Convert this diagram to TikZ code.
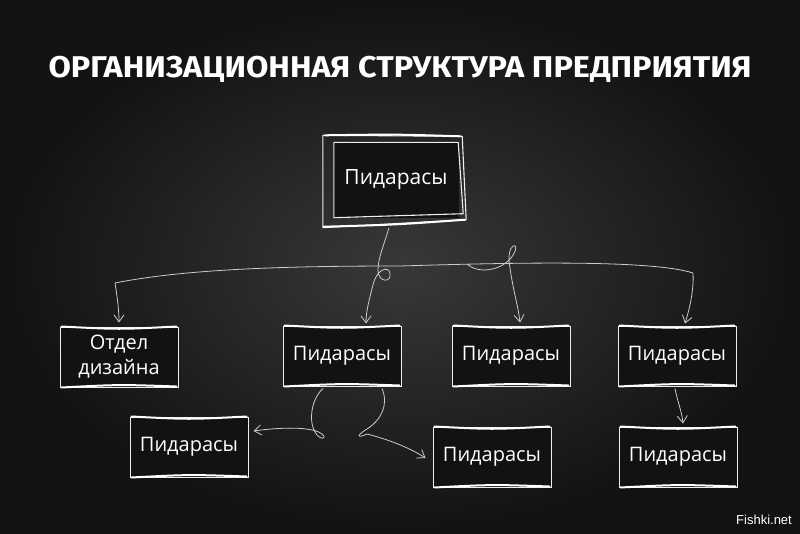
\documentclass[tikz,border=0pt]{standalone}
\usepackage{fontspec}
\setmainfont{Open Sans}
\newfontfamily\titlefont{Fira Sans}
\newfontfamily\markfont{Liberation Sans}
\usetikzlibrary{arrows.meta}
\definecolor{chalk}{gray}{0.93}
\definecolor{wirecol}{gray}{0.8}
\definecolor{boxfill}{gray}{0.07}
\definecolor{bgin}{gray}{0.22}
\definecolor{bgout}{gray}{0.07}

\tikzset{
    box/.style={draw=chalk, line width=1pt, fill=boxfill, text=white,
        minimum width=118pt, minimum height=60pt, inner sep=0pt, align=center,
        font=\fontsize{20}{25}\selectfont},
    boss/.style={fill=boxfill, text=white, minimum width=126pt, minimum height=75pt,
        inner sep=0pt, font=\fontsize{21}{25}\selectfont},
    chalkline/.style={draw=chalk, line width=1.1pt, line join=round},
    chalkstroke/.style={draw=white, line width=2pt, line cap=round},
    wire/.style={draw=wirecol, line width=0.8pt, -{Straight Barb[length=7pt, width=10pt]}},
    bus/.style={draw=wirecol, line width=0.8pt}
}

\begin{document}
\begin{tikzpicture}[x=1pt, y=-1pt]

    % background
    \shade[inner color=bgin, outer color=bgout] (0,0) rectangle (800,533);
    \useasboundingbox (0,0) rectangle (800,533);

    \node[font=\titlefont\bfseries\fontsize{30}{30}\selectfont, text=white, xscale=1.08] (title) at (400,69) {ОРГАНИЗАЦИОННАЯ СТРУКТУРА ПРЕДПРИЯТИЯ};

    % top box
    \node[boss] (top) at (396,180) {Пидарасы};
    \draw[chalkline] ([shift={(-10,-7)}]top.north west) -- ([shift={(3,-6)}]top.north east)
        -- ([shift={(7,2)}]top.south east) -- ([shift={(-10,10)}]top.south west) -- cycle;
    \draw[chalkline] ([shift={(1,0)}]top.north west) -- ([shift={(-1,0)}]top.north east)
        -- ([shift={(4,-4)}]top.south east) -- ([shift={(1,0)}]top.south west) -- cycle;
    \draw[chalkstroke] ([shift={(-8,-7)}]top.north west) .. controls ([shift={(0,-8)}]top.north) .. ([shift={(1,-6)}]top.north east);
    \draw[chalkstroke] ([shift={(-9,9)}]top.south west) .. controls ([shift={(0,7)}]top.south) .. ([shift={(6,2)}]top.south east);

    % second row
    \node[box] (design) at (119,357) {Отдел\\дизайна};
    \node[box] (midA) at (342,356) {Пидарасы};
    \node[box] (midB) at (511,356) {Пидарасы};
    \node[box] (midC) at (677,356) {Пидарасы};

    % third row
    \node[box] (lowA) at (189,447) {Пидарасы};
    \node[box] (lowB) at (492,457) {Пидарасы};
    \node[box] (lowC) at (678,457) {Пидарасы};

    % thick chalk strokes on the boxes
    \draw[chalkstroke] ([shift={(2,0)}]design.north west) .. controls ([shift={(0,3)}]design.north) .. ([shift={(-2,0)}]design.north east);
    \draw[chalkstroke] ([shift={(2,0)}]design.south west) .. controls ([shift={(0,-3)}]design.south) .. ([shift={(-2,-1)}]design.south east);
    \draw[chalkstroke] ([shift={(2,0)}]midA.north west) .. controls ([shift={(0,3)}]midA.north) .. ([shift={(-2,0)}]midA.north east);
    \draw[chalkstroke] ([shift={(2,0)}]midA.south west) .. controls ([shift={(0,-3)}]midA.south) .. ([shift={(-2,-1)}]midA.south east);
    \draw[chalkstroke] ([shift={(2,0)}]midB.north west) .. controls ([shift={(0,3)}]midB.north) .. ([shift={(-2,0)}]midB.north east);
    \draw[chalkstroke] ([shift={(2,0)}]midB.south west) .. controls ([shift={(0,-3)}]midB.south) .. ([shift={(-2,-1)}]midB.south east);
    \draw[chalkstroke] ([shift={(2,0)}]midC.north west) .. controls ([shift={(0,3)}]midC.north) .. ([shift={(-2,0)}]midC.north east);
    \draw[chalkstroke] ([shift={(2,0)}]midC.south west) .. controls ([shift={(0,-3)}]midC.south) .. ([shift={(-2,-1)}]midC.south east);
    \draw[chalkstroke] ([shift={(2,0)}]lowA.north west) .. controls ([shift={(0,3)}]lowA.north) .. ([shift={(-2,0)}]lowA.north east);
    \draw[chalkstroke] ([shift={(2,0)}]lowA.south west) .. controls ([shift={(0,-3)}]lowA.south) .. ([shift={(-2,-1)}]lowA.south east);
    \draw[chalkstroke] ([shift={(2,0)}]lowB.north west) .. controls ([shift={(0,3)}]lowB.north) .. ([shift={(-2,0)}]lowB.north east);
    \draw[chalkstroke] ([shift={(2,0)}]lowB.south west) .. controls ([shift={(0,-3)}]lowB.south) .. ([shift={(-2,-1)}]lowB.south east);
    \draw[chalkstroke] ([shift={(2,0)}]lowC.north west) .. controls ([shift={(0,3)}]lowC.north) .. ([shift={(-2,0)}]lowC.north east);
    \draw[chalkstroke] ([shift={(2,0)}]lowC.south west) .. controls ([shift={(0,-3)}]lowC.south) .. ([shift={(-2,-1)}]lowC.south east);

    % bus line
    \coordinate (busL) at (115,283);
    \coordinate (busR) at (693,273);
    \coordinate (forkB) at (467,264);
    \draw[bus] (busL) .. controls (190,268) and (300,266) .. (400,266)
        .. controls (500,263) and (650,259) .. (busR);

    % connectors
    \draw[wire] ([shift={(-7,10)}]top.south) .. controls (384,245) and (378,258) .. (378,270)
        .. controls (378,283) and (392,283) .. (390,273) .. controls (388,265) and (376,270) .. (373,285)
        .. controls (369,300) and (366,312) .. ([shift={(24,-2)}]midA.north);
    \draw[wire] (busL) .. controls (117,295) and (119,310) .. ([shift={(0,-4)}]design.north);
    \draw[wire] (busR) .. controls (694,292) and (689,310) .. ([shift={(8,-2)}]midC.north);
    \draw[wire] (forkB) .. controls (478,274) and (500,271) .. (511,258)
        .. controls (518,249) and (516,244) .. (513,246) .. controls (509,249) and (508,258) .. (510,268)
        .. controls (513,290) and (518,305) .. ([shift={(9,-3)}]midB.north);
    \draw[wire] ([shift={(-19,2)}]midA.south) .. controls (312,398) and (308,420) .. (315,432)
        .. controls (320,441) and (328,439) .. (322,434) .. controls (315,428) and (290,426) .. ([shift={(5,-16)}]lowA.east);
    \draw[wire] ([shift={(40,2)}]midA.south) .. controls (389,405) and (381,420) .. (367,429)
        .. controls (357,435) and (356,439) .. (367,434) .. controls (390,440) and (410,448) .. ([shift={(-7,1)}]lowB.west);
    \draw[wire] ([shift={(-2,2)}]midC.south) .. controls (677,400) and (682,412) .. ([shift={(5,-3)}]lowC.north);

    \node[font=\markfont\fontsize{13}{13}\selectfont, text=white] (mark) at (764,520) {Fishki.net};

\end{tikzpicture}
\end{document}
